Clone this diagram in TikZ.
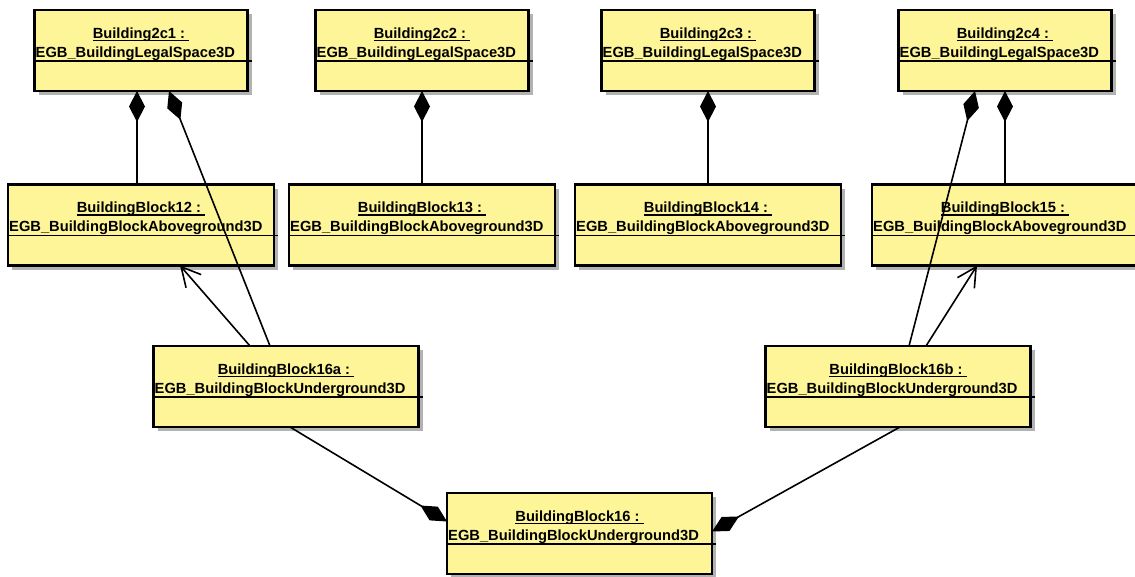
\documentclass[tikz,border=0pt]{standalone}
\usepackage{fontspec}
\setmainfont{Liberation Sans}
\usetikzlibrary{arrows.meta,calc,positioning,shadows}
\definecolor{objfill}{RGB}{253,245,152}
\definecolor{objshadow}{RGB}{178,178,178}
\newsavebox{\objbox}
\newcommand{\objul}[1]{\sbox{\objbox}{#1}\rlap{\rule[-3pt]{\wd\objbox}{1.4pt}}\usebox{\objbox}}
% box, underlined title, class name and separator
\newcommand{\umlobj}[4]{%
	\node[obj, #1] (#2) {};
	\node[objtitle] (#2-t) at ([yshift=-28pt]#2.north) {\objul{#3\ }};
	\node[objclass] (#2-c) at ([xshift=1pt,yshift=-47pt]#2.north west) {#4};
	\draw[objsep] ([yshift=-51pt]#2.north west) -- ([xshift=4pt,yshift=-51pt]#2.north east);
}
\tikzset{
	uml/.style={
		x=1pt, y=-1pt,
		node distance=93.5pt and 20pt,
		every node/.style={font=\fontsize{14.7}{20}\selectfont\bfseries},
		objtitle/.style={anchor=base, inner sep=0pt},
		objclass/.style={anchor=base west, inner sep=0pt},
		objsep/.style={line width=1.4pt},
		comp/.style={{Diamond[length=31pt,width=16pt]}-, line width=1.6pt},
		gen/.style={-{Straight Barb[length=19pt,width=20pt]}, line width=1.6pt}
	},
	obj/.style={draw, line width=2.3pt, fill=objfill, minimum height=81pt,
		inner sep=0pt, outer sep=0pt,
		drop shadow={shadow xshift=4pt, shadow yshift=-4pt, fill=objshadow, opacity=1}},
	legal/.style={minimum width=213pt},
	block/.style={minimum width=266pt},
	under/.style={minimum width=265pt}
}

\begin{document}
\begin{tikzpicture}[uml]
	\useasboundingbox (0,0) rectangle (1135,576);
	% legal spaces
	\umlobj{legal, at={(141,50.5)}}{b2c1}{Building2c1 :}{EGB\_BuildingLegalSpace3D}
	\umlobj{legal, at={(422,50.5)}}{b2c2}{Building2c2 :}{EGB\_BuildingLegalSpace3D}
	\umlobj{legal, at={(708,50.5)}}{b2c3}{Building2c3 :}{EGB\_BuildingLegalSpace3D}
	\umlobj{legal, at={(1005,50.5)}}{b2c4}{Building2c4 :}{EGB\_BuildingLegalSpace3D}
	% aboveground blocks
	\umlobj{block, below=of b2c1}{bb12}{BuildingBlock12 :}{EGB\_BuildingBlockAboveground3D}
	\umlobj{block, below=of b2c2}{bb13}{BuildingBlock13 :}{EGB\_BuildingBlockAboveground3D}
	\umlobj{block, below=of b2c3}{bb14}{BuildingBlock14 :}{EGB\_BuildingBlockAboveground3D}
	\umlobj{block, below=of b2c4}{bb15}{BuildingBlock15 :}{EGB\_BuildingBlockAboveground3D}
	% underground blocks
	\umlobj{under, at={(286,386.5)}}{bb16a}{BuildingBlock16a :}{EGB\_BuildingBlockUnderground3D}
	\umlobj{under, at={(898,386.5)}}{bb16b}{BuildingBlock16b :}{EGB\_BuildingBlockUnderground3D}
	\umlobj{under, at={(579.5,533.5)}}{bb16}{BuildingBlock16 :}{EGB\_BuildingBlockUnderground3D}

	\draw[comp] ([xshift=-4pt]b2c1.south) -- ([xshift=-4pt]bb12.north);
	\draw[comp] ([xshift=28pt]b2c1.south) -- ([xshift=-16pt]bb16a.north);
	\draw[comp] (b2c2.south) -- (bb13.north);
	\draw[comp] (b2c3.south) -- (bb14.north);
	\draw[comp] (b2c4.south) -- (bb15.north);
	\draw[comp] ([xshift=-30pt]b2c4.south) -- ([xshift=11pt]bb16b.north);
	\draw[gen] ([xshift=-36pt]bb16a.north) -- ([xshift=39pt]bb12.south);
	\draw[gen] ([xshift=28pt]bb16b.north) -- ([xshift=-28pt]bb15.south);
	\draw[comp] ([yshift=12pt]bb16.west) -- ([xshift=4pt]bb16a.south);
	\draw[comp] ([yshift=2pt]bb16.east) -- ([xshift=2pt]bb16b.south);
\end{tikzpicture}
\end{document}
